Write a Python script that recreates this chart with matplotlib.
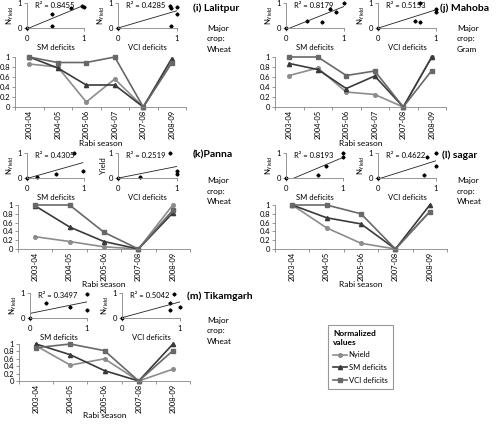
import numpy as np
import matplotlib
matplotlib.use('Agg')
import matplotlib.pyplot as plt
from matplotlib.lines import Line2D

plt.rcParams['font.family'] = ['Lato', 'DejaVu Sans']
plt.rcParams['mathtext.fontset'] = 'custom'
plt.rcParams['mathtext.rm'] = 'Lato'

# ── Data (normalized values) ───────────────────────────────────────
seasons6 = ['2003-04', '2004-05', '2005-06', '2006-07', '2007-08', '2008-09']
seasons5 = ['2003-04', '2004-05', '2005-06', '2007-08', '2008-09']

lalitpur_nyield = [0.86, 0.80, 0.10, 0.56, 0.0, 0.90]
lalitpur_sm = [1.0, 0.78, 0.44, 0.44, 0.0, 0.97]
lalitpur_vci = [1.0, 0.89, 0.89, 1.0, 0.0, 0.88]

mahoba_nyield = [0.63, 0.78, 0.30, 0.25, 0.0, 1.0]
mahoba_sm = [0.87, 0.75, 0.37, 0.62, 0.0, 1.0]
mahoba_vci = [1.0, 1.0, 0.63, 0.72, 0.0, 0.73]

panna_nyield = [0.28, 0.17, 0.05, 0.0, 1.0]
panna_sm = [0.98, 0.50, 0.17, 0.0, 0.82]
panna_vci = [1.0, 1.0, 0.38, 0.0, 0.88]

sagar_nyield = [1.0, 0.48, 0.13, 0.0, 0.85]
sagar_sm = [1.0, 0.71, 0.57, 0.0, 1.0]
sagar_vci = [1.0, 1.0, 0.80, 0.0, 0.85]

tikam_nyield = [0.95, 0.43, 0.60, 0.0, 0.32]
tikam_sm = [1.0, 0.71, 0.28, 0.0, 1.0]
tikam_vci = [0.90, 1.0, 0.82, 0.0, 0.82]

r2_sm = ['0.8455', '0.8179', '0.4305', '0.8193', '0.3497']
r2_vci = ['0.4285', '0.5153', '0.2519', '0.4622', '0.5042']

# ── Layout helpers (pixel positions of the 500x424 reference) ──────
W, H = 500, 424
fig = plt.figure(figsize=(W / 100, H / 100), dpi=100)

AXC = '#868686'
C_NY, C_SM, C_VCI = '#8c8c8c', '#3a3a3a', '#686868'
FS = 5.5


def px_axes(x0, x1, ytop, ybot):
    return fig.add_axes([x0 / W, 1 - ybot / H, (x1 - x0) / W, (ybot - ytop) / H])


def style_spines(ax):
    for s in ['top', 'right']:
        ax.spines[s].set_visible(False)
    for s in ['left', 'bottom']:
        ax.spines[s].set_color(AXC)
        ax.spines[s].set_linewidth(0.6)
    ax.tick_params(colors=AXC, labelcolor='black', labelsize=FS, width=0.6, length=2, pad=1.5)


def scatter_panel(x0, x1, ytop, ybot, xs, ys, r2, xlabel, ylabel):
    ax = px_axes(x0, x1, ytop, ybot)
    style_spines(ax)
    xs = np.array(xs)
    ys = np.array(ys)
    ax.plot(xs, ys, 'D', color='black', ms=1.6, clip_on=False)
    b1, b0 = np.polyfit(xs, ys, 1)
    xl = np.array([xs.min(), xs.max()])
    ax.plot(xl, b0 + b1 * xl, color='#222222', lw=0.6)
    ax.set_xlim(0, 1)
    ax.set_ylim(0, 1)
    ax.set_xticks([0, 1])
    ax.set_yticks([0, 1])
    ax.set_xticklabels(['0', '1'])
    ax.set_yticklabels(['0', '1'])
    ax.tick_params(axis='x', pad=3)
    ax.set_xlabel(xlabel, fontsize=FS, labelpad=1.5)
    ax.set_ylabel(ylabel, fontsize=FS, labelpad=1)
    ax.text(0.14, 0.82, 'R² = ' + r2, transform=ax.transAxes, fontsize=FS)
    return ax


def line_panel(x0, x1, ytop, ybot, seasons, ny, sm, vci, label_y):
    ax = px_axes(x0, x1, ytop, ybot)
    style_spines(ax)
    x = np.arange(len(seasons))
    ax.plot(x, ny, color=C_NY, marker='o', ms=2.6, lw=1.2, clip_on=False)
    ax.plot(x, sm, color=C_SM, marker='^', ms=3.0, lw=1.2, clip_on=False)
    ax.plot(x, vci, color=C_VCI, marker='s', ms=2.6, lw=1.2, clip_on=False)
    ax.set_xlim(-0.5, len(seasons) - 0.5)
    ax.set_ylim(0, 1)
    ax.set_xticks(x)
    ax.set_xticklabels(seasons, rotation=90)
    ax.tick_params(axis='x', which='major', length=0, pad=2)
    ax.set_xticks(np.arange(-0.5, len(seasons)), minor=True)
    ax.tick_params(axis='x', which='minor', length=2.5, width=0.6, colors=AXC)
    ax.set_yticks([0, 0.2, 0.4, 0.6, 0.8, 1.0])
    ax.set_yticklabels(['0', '0.2', '0.4', '0.6', '0.8', '1'])
    ax.set_xlabel('Rabi season', fontsize=FS + 0.5)
    ax.xaxis.set_label_coords(0.5, (ybot - label_y) / (ybot - ytop))
    return ax


def district_text(x_lab, y_lab, name, x_crop, y_crop, crop):
    fig.text(x_lab / W, 1 - y_lab / H, name, fontsize=7.5, fontweight='bold', va='center')
    for i, t in enumerate(['Major', 'crop:', crop]):
        fig.text(x_crop / W, 1 - (y_crop + i * 10.5) / H, t, fontsize=FS + 0.5, va='center')


NY = r'N$_{\mathrm{Yield}}$'

panels = [
    # scatter x positions, scatter y, line x, line y, label pos
    dict(sx=(27, 84, 118, 177), sy=(3, 28), lx=(15, 186), ly=(57, 107), lab_y=140,
         seasons=seasons6, ny=lalitpur_nyield, sm=lalitpur_sm, vci=lalitpur_vci,
         name='(i) Lalitpur', tx=(193, 8, 207, 28), crop='Wheat', vlab=NY),
    dict(sx=(286, 344, 378, 436), sy=(3, 28), lx=(275, 446), ly=(57, 107), lab_y=140,
         seasons=seasons6, ny=mahoba_nyield, sm=mahoba_sm, vci=mahoba_vci,
         name='(j) Mahoba', tx=(440, 8, 457, 28), crop='Gram', vlab=NY),
    dict(sx=(27, 84, 118, 177), sy=(153, 178), lx=(18, 190), ly=(205, 249), lab_y=281,
         seasons=seasons5, ny=panna_nyield, sm=panna_sm, vci=panna_vci,
         name='(k)Panna', tx=(193, 155, 207, 181), crop='Wheat', vlab='Yield'),
    dict(sx=(286, 343, 378, 436), sy=(153, 178), lx=(275, 447), ly=(205, 249), lab_y=281,
         seasons=seasons5, ny=sagar_nyield, sm=sagar_sm, vci=sagar_vci,
         name='(l) sagar', tx=(442, 155, 457, 181), crop='Wheat', vlab=NY),
    dict(sx=(30, 87, 122, 180), sy=(293, 318), lx=(19, 190), ly=(344, 381), lab_y=412,
         seasons=seasons5, ny=tikam_nyield, sm=tikam_sm, vci=tikam_vci,
         name='(m) Tikamgarh', tx=(187, 296, 207, 320), crop='Wheat', vlab=NY),
]

for i, p in enumerate(panels):
    sx, sy = p['sx'], p['sy']
    scatter_panel(sx[0], sx[1], sy[0], sy[1], p['sm'], p['ny'], r2_sm[i], 'SM deficits', NY)
    scatter_panel(sx[2], sx[3], sy[0], sy[1], p['vci'], p['ny'], r2_vci[i], 'VCI deficits', p['vlab'])
    line_panel(p['lx'][0], p['lx'][1], p['ly'][0], p['ly'][1], p['seasons'],
               p['ny'], p['sm'], p['vci'], p['lab_y'])
    tx = p['tx']
    district_text(tx[0], tx[1], p['name'], tx[2], tx[3], p['crop'])

# ── Legend box ─────────────────────────────────────────────────────
handles = [
    Line2D([], [], color=C_NY, marker='o', ms=2.6, lw=1.2),
    Line2D([], [], color=C_SM, marker='^', ms=3.0, lw=1.2),
    Line2D([], [], color=C_VCI, marker='s', ms=2.6, lw=1.2),
]
leg = fig.legend(handles, ['Nyield', 'SM deficits', 'VCI deficits'],
                 loc='upper left', bbox_to_anchor=(328 / W, 1 - 325 / H),
                 title='Normalized\nvalues', title_fontproperties={'weight': 'bold', 'size': 6},
                 alignment='left', fontsize=FS, frameon=True, fancybox=False,
                 edgecolor='#7f7f7f', handlelength=1.8, handletextpad=0.2,
                 borderpad=0.7, labelspacing=0.75, borderaxespad=0)
leg.get_frame().set_linewidth(0.8)

fig.savefig('out.png', dpi=100)
